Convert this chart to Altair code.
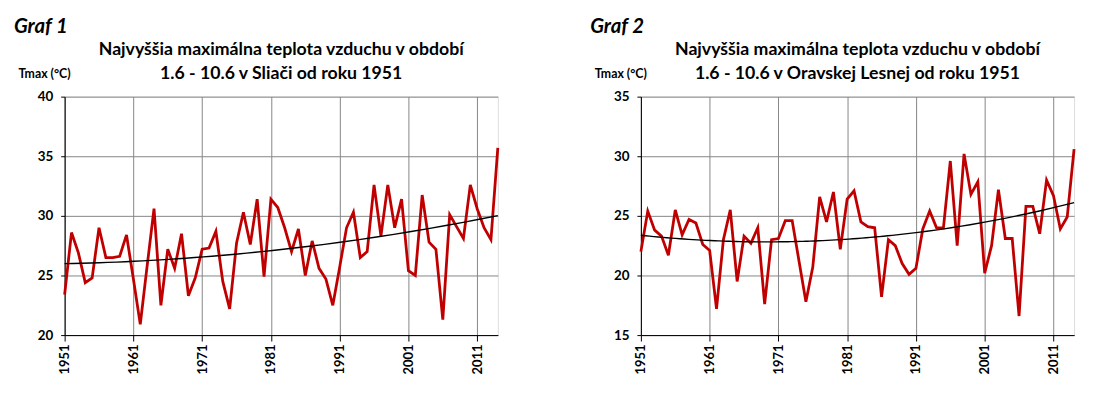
import altair as alt
import pandas as pd

years = list(range(1951, 2015))

sliac = [23.4, 28.6, 26.9, 24.4, 24.8, 29.0, 26.5, 26.5, 26.6, 28.4,
         24.7, 20.9, 25.8, 30.6, 22.5, 27.2, 25.6, 28.5, 23.3, 24.8,
         27.2, 27.3, 28.7, 24.5, 22.2, 27.7, 30.3, 27.6, 31.4, 24.9,
         31.4, 30.7, 29.0, 27.0, 28.9, 25.0, 27.9, 25.6, 24.7, 22.5,
         25.7, 29.0, 30.3, 26.5, 27.0, 32.6, 28.3, 32.6, 29.0, 31.4,
         25.4, 25.0, 31.75, 27.8, 27.2, 21.3, 30.1, 29.1, 28.1, 32.6,
         30.6, 29.0, 28.0, 35.7]

orava = [22.0, 25.4, 23.8, 23.3, 21.7, 25.5, 23.4, 24.7, 24.4, 22.6,
         22.1, 17.2, 23.0, 25.5, 19.5, 23.3, 22.7, 24.0, 17.6, 23.0,
         23.1, 24.6, 24.6, 21.2, 17.8, 20.7, 26.6, 24.5, 27.0, 22.2,
         26.4, 27.1, 24.5, 24.1, 24.0, 18.2, 23.0, 22.5, 21.0, 20.1,
         20.6, 23.9, 25.4, 24.0, 24.0, 29.6, 22.5, 30.2, 26.8, 27.85,
         20.2, 22.5, 27.2, 23.1, 23.1, 16.6, 25.8, 25.8, 23.5, 28.0,
         26.7, 23.9, 24.9, 30.6]

tick_years = [1951, 1961, 1971, 1981, 1991, 2001, 2011]

FONT = "Lato"
RED = "#C00000"
GRID = "#868686"
W, H = 436, 240


def label(text, x, y, size, italic=False, align="left"):
    return alt.Chart(pd.DataFrame({"t": [text]})).mark_text(
        font=FONT, fontSize=size, fontWeight="bold",
        fontStyle="italic" if italic else "normal",
        align=align, baseline="alphabetic", color="black"
    ).encode(x=alt.value(x), y=alt.value(y), text="t:N")


def panel(vals, ymin, ymax, graf, line1, line2):
    df = pd.DataFrame({"rok": years, "tmax": vals})
    base = alt.Chart(df)
    x = alt.X("rok:Q",
              scale=alt.Scale(domain=[1951, 2014], nice=False, zero=False),
              axis=alt.Axis(values=tick_years, labelAngle=270, format="d",
                            title=None, grid=True, gridColor=GRID,
                            gridWidth=1, tickSize=6, tickColor="black",
                            domainColor="black", labelPadding=3,
                            labelFont=FONT, labelFontSize=13,
                            labelFontWeight="bold", labelColor="black"))
    y = alt.Y("tmax:Q",
              scale=alt.Scale(domain=[ymin, ymax], nice=False, zero=False),
              axis=alt.Axis(values=list(range(ymin, ymax + 1, 5)),
                            title=None, grid=True, gridColor=GRID,
                            gridWidth=1, tickSize=4, tickColor="black",
                            domainColor="black", labelPadding=8,
                            labelFont=FONT, labelFontSize=13.5,
                            labelFontWeight="bold", labelColor="black"))
    line = base.mark_line(color=RED, strokeWidth=2.8).encode(x=x, y=y)
    trend = base.transform_regression(
        "rok", "tmax", method="poly", order=2
    ).mark_line(color="black", strokeWidth=1.4).encode(x="rok:Q", y="tmax:Q")
    texts = [
        label(graf, -51, -64, 20.5, italic=True),
        label(line1, W / 2, -42, 17.8, align="center"),
        label(line2, W / 2, -18, 17.8, align="center"),
        label("Tmax (°C)", -46.5, -19, 12.4),
    ]
    return alt.layer(line, trend, *texts).properties(width=W, height=H)


p1 = panel(sliac, 20, 40, "Graf 1",
           "Najvyššia maximálna teplota vzduchu v období",
           "1.6 - 10.6 v Sliači od roku 1951")
p2 = panel(orava, 15, 35, "Graf 2",
           "Najvyššia maximálna teplota vzduchu v období",
           "1.6 - 10.6 v Oravskej Lesnej od roku 1951")

chart = alt.hconcat(p1, p2, spacing=85).properties(
    padding={"left": 5, "top": 7, "right": 5, "bottom": 5}
).configure_view(stroke="black", strokeWidth=1).configure(background="white")

chart.save("out.html", embed_options={"renderer": "svg", "actions": False})
